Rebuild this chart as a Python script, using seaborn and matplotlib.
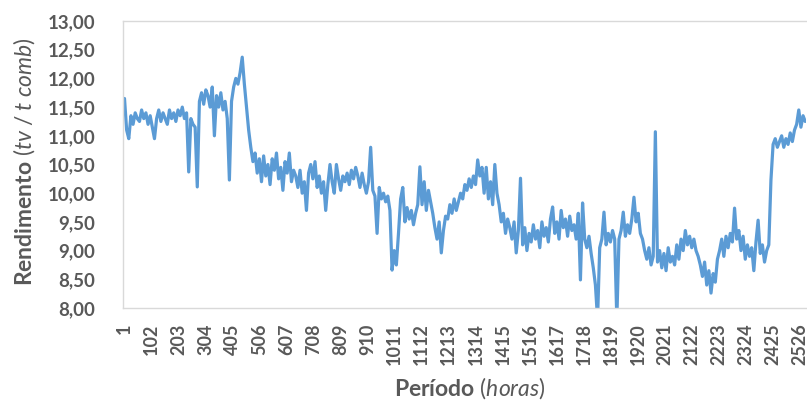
import numpy as np
import pandas as pd
import matplotlib
matplotlib.use("Agg")
import matplotlib.pyplot as plt
from matplotlib.ticker import FuncFormatter, FixedLocator
import seaborn as sns

# ---- data: hourly efficiency, read every 8 hours from the reference ----
step_hours = 8
seg_inicio = [11.65, 11.1, 10.95, 11.35, 11.2, 11.4, 11.3, 11.25, 11.45, 11.3,
              11.4, 11.2, 11.35, 11.15, 10.95, 11.3, 11.45, 11.25, 11.4, 11.3,
              11.2, 11.45, 11.3, 11.4, 11.25, 11.45, 11.35, 11.5, 11.3,
              11.4, 10.37, 11.3, 11.2, 11.15, 10.11]
seg_pico = [11.6, 11.75, 11.55, 11.8, 11.7, 11.5, 11.85, 11.0, 11.7, 11.5,
            11.75, 11.45, 11.6, 11.3, 10.23,
            11.6, 11.85, 12.0, 11.9, 12.1, 12.37,
            11.9, 11.5, 11.1, 10.8, 10.55, 10.7, 10.35, 10.6]
seg_queda = [10.2, 10.65, 10.3, 10.5, 10.15, 10.6, 10.4, 10.7, 10.25, 10.45,
             10.05, 10.55, 10.35, 10.7, 10.2, 10.4,
             10.3, 10.1, 10.4, 10.0, 10.2, 9.7, 10.35, 10.5, 10.25, 10.55,
             10.1, 10.3, 10.0, 10.2, 9.7, 10.15,
             10.5, 10.2, 10.0, 10.5, 10.25, 10.05, 10.3, 10.2, 10.35, 10.15,
             10.4, 10.25, 10.45, 10.3, 10.1, 10.35]
seg_meio = [10.15, 10.0, 10.2, 10.8, 10.05, 9.95, 9.3, 10.1, 9.9, 10.0,
            9.85, 9.95, 9.7, 8.66,
            9.0, 8.75, 9.3, 9.9, 10.1, 9.5, 9.75, 9.55, 9.7, 9.45, 9.65, 9.8, 10.46,
            9.8, 10.2, 9.7, 10.05, 9.85, 9.65, 9.4, 9.2, 9.5, 8.96, 9.35, 9.6,
            9.55, 9.8, 9.65, 9.9, 9.7, 9.85, 10.0, 9.9, 10.15, 10.05, 10.25,
            10.1, 10.3, 10.15, 10.58, 10.3, 10.45,
            10.0, 10.45, 9.9, 10.2, 9.8, 10.5, 10.0,
            9.8, 9.5, 9.65, 9.3, 9.55, 9.4, 9.2, 9.5, 8.96, 9.35, 10.26]
seg_baixo = [9.1, 9.4, 9.0, 9.3, 9.15, 9.45, 9.2, 9.35, 9.05, 9.5, 9.25, 9.4,
             9.15, 9.55, 9.76,
             9.3, 9.5, 9.2, 9.7, 9.4, 9.55, 9.25, 9.6, 9.35, 9.45, 9.2, 9.65, 8.49,
             9.83, 9.2, 9.05, 9.25, 8.95, 8.7, 8.4, 7.8,
             9.05, 9.2, 9.67, 9.1, 9.3, 9.15, 9.35, 9.2, 7.8,
             9.2, 9.35, 9.67, 9.25, 9.45, 9.3, 9.55, 9.93, 9.5, 9.65, 9.3, 9.2,
             9.0, 8.85, 9.05, 8.75, 8.9, 11.07]
seg_final = [8.8, 9.0, 8.7, 8.95, 8.65, 9.05, 8.8, 8.9,
             8.75, 9.1, 8.85, 9.2, 9.0, 9.35, 9.1, 9.25, 9.05, 9.2, 9.0, 8.9,
             8.75, 8.55, 8.8, 8.4, 8.65, 8.26, 8.6, 8.45, 8.85,
             9.0, 9.2, 8.9, 9.25, 9.05, 9.3, 9.15, 9.74, 9.2, 9.35, 9.0, 9.25,
             8.85, 9.1, 8.9, 9.05, 8.65, 9.15, 9.53, 8.95, 9.1, 8.8, 9.0, 9.1,
             10.23, 10.85, 10.95, 10.8,
             10.9, 11.0, 10.8, 10.95, 10.85, 11.05, 10.9, 11.1,
             11.2, 11.45, 11.15, 11.35, 11.25]

rendimento = seg_inicio + seg_pico + seg_queda + seg_meio + seg_baixo + seg_final
horas = 1 + step_hours * np.arange(len(rendimento))
df = pd.DataFrame({"hora": horas, "rendimento": rendimento})

x_ticks = list(range(1, 2527, 101))
y_ticks = [8.0, 8.5, 9.0, 9.5, 10.0, 10.5, 11.0, 11.5, 12.0, 12.5, 13.0]

# ---- style ----
sns.set_theme(style="white")
plt.rcParams["font.family"] = ["Lato", "DejaVu Sans"]
plt.rcParams["mathtext.fontset"] = "custom"
plt.rcParams["mathtext.rm"] = "Lato"
plt.rcParams["mathtext.bf"] = "Lato:bold"
plt.rcParams["mathtext.it"] = "Lato:italic"

text_color = "#595959"
line_color = "#5B9BD5"
grid_color = "#D9D9D9"

fig = plt.figure(figsize=(8.07, 4.01), dpi=100)
ax = fig.add_axes([123 / 807, 1 - 308 / 401, (806 - 123) / 807, (308 - 21) / 401])

sns.lineplot(data=df, x="hora", y="rendimento", ax=ax, color=line_color,
             linewidth=2.3, sort=False, estimator=None)

ax.set_xlim(-4.6, 2548)
ax.set_ylim(8.0, 13.0)
ax.yaxis.set_major_locator(FixedLocator(y_ticks))
ax.yaxis.set_major_formatter(FuncFormatter(lambda v, p: f"{v:.2f}".replace(".", ",")))
ax.xaxis.set_major_locator(FixedLocator(x_ticks))
ax.set_xticklabels([str(t) for t in x_ticks], rotation=90)

for lab in ax.get_yticklabels():
    lab.set_fontweight("bold")
    lab.set_color(text_color)
    lab.set_fontsize(13.5)
for lab in ax.get_xticklabels():
    lab.set_fontweight("bold")
    lab.set_color(text_color)
    lab.set_fontsize(13)

ax.tick_params(axis="y", length=0, pad=20)
ax.tick_params(axis="x", length=0, pad=11)

for side in ["left", "top", "bottom"]:
    ax.spines[side].set_color(grid_color)
    ax.spines[side].set_linewidth(1.0)
ax.spines["right"].set_visible(False)

ax.set_xlabel(r"$\mathbf{Período}$ $\mathit{(horas)}$", fontsize=16.5, color=text_color)
ax.set_ylabel(r"$\mathbf{Rendimento}$ $\mathit{(tv\;/\;t\;comb)}$", fontsize=16.5,
              color=text_color)
ax.xaxis.set_label_coords((470 - 123) / (806 - 123), (308 - 388) / (308 - 21))
ax.yaxis.set_label_coords((24 - 123) / (806 - 123), (308 - 162) / (308 - 21))
ax.xaxis.label.set_va("center")
ax.yaxis.label.set_va("center")

fig.savefig("out.png", dpi=100)
